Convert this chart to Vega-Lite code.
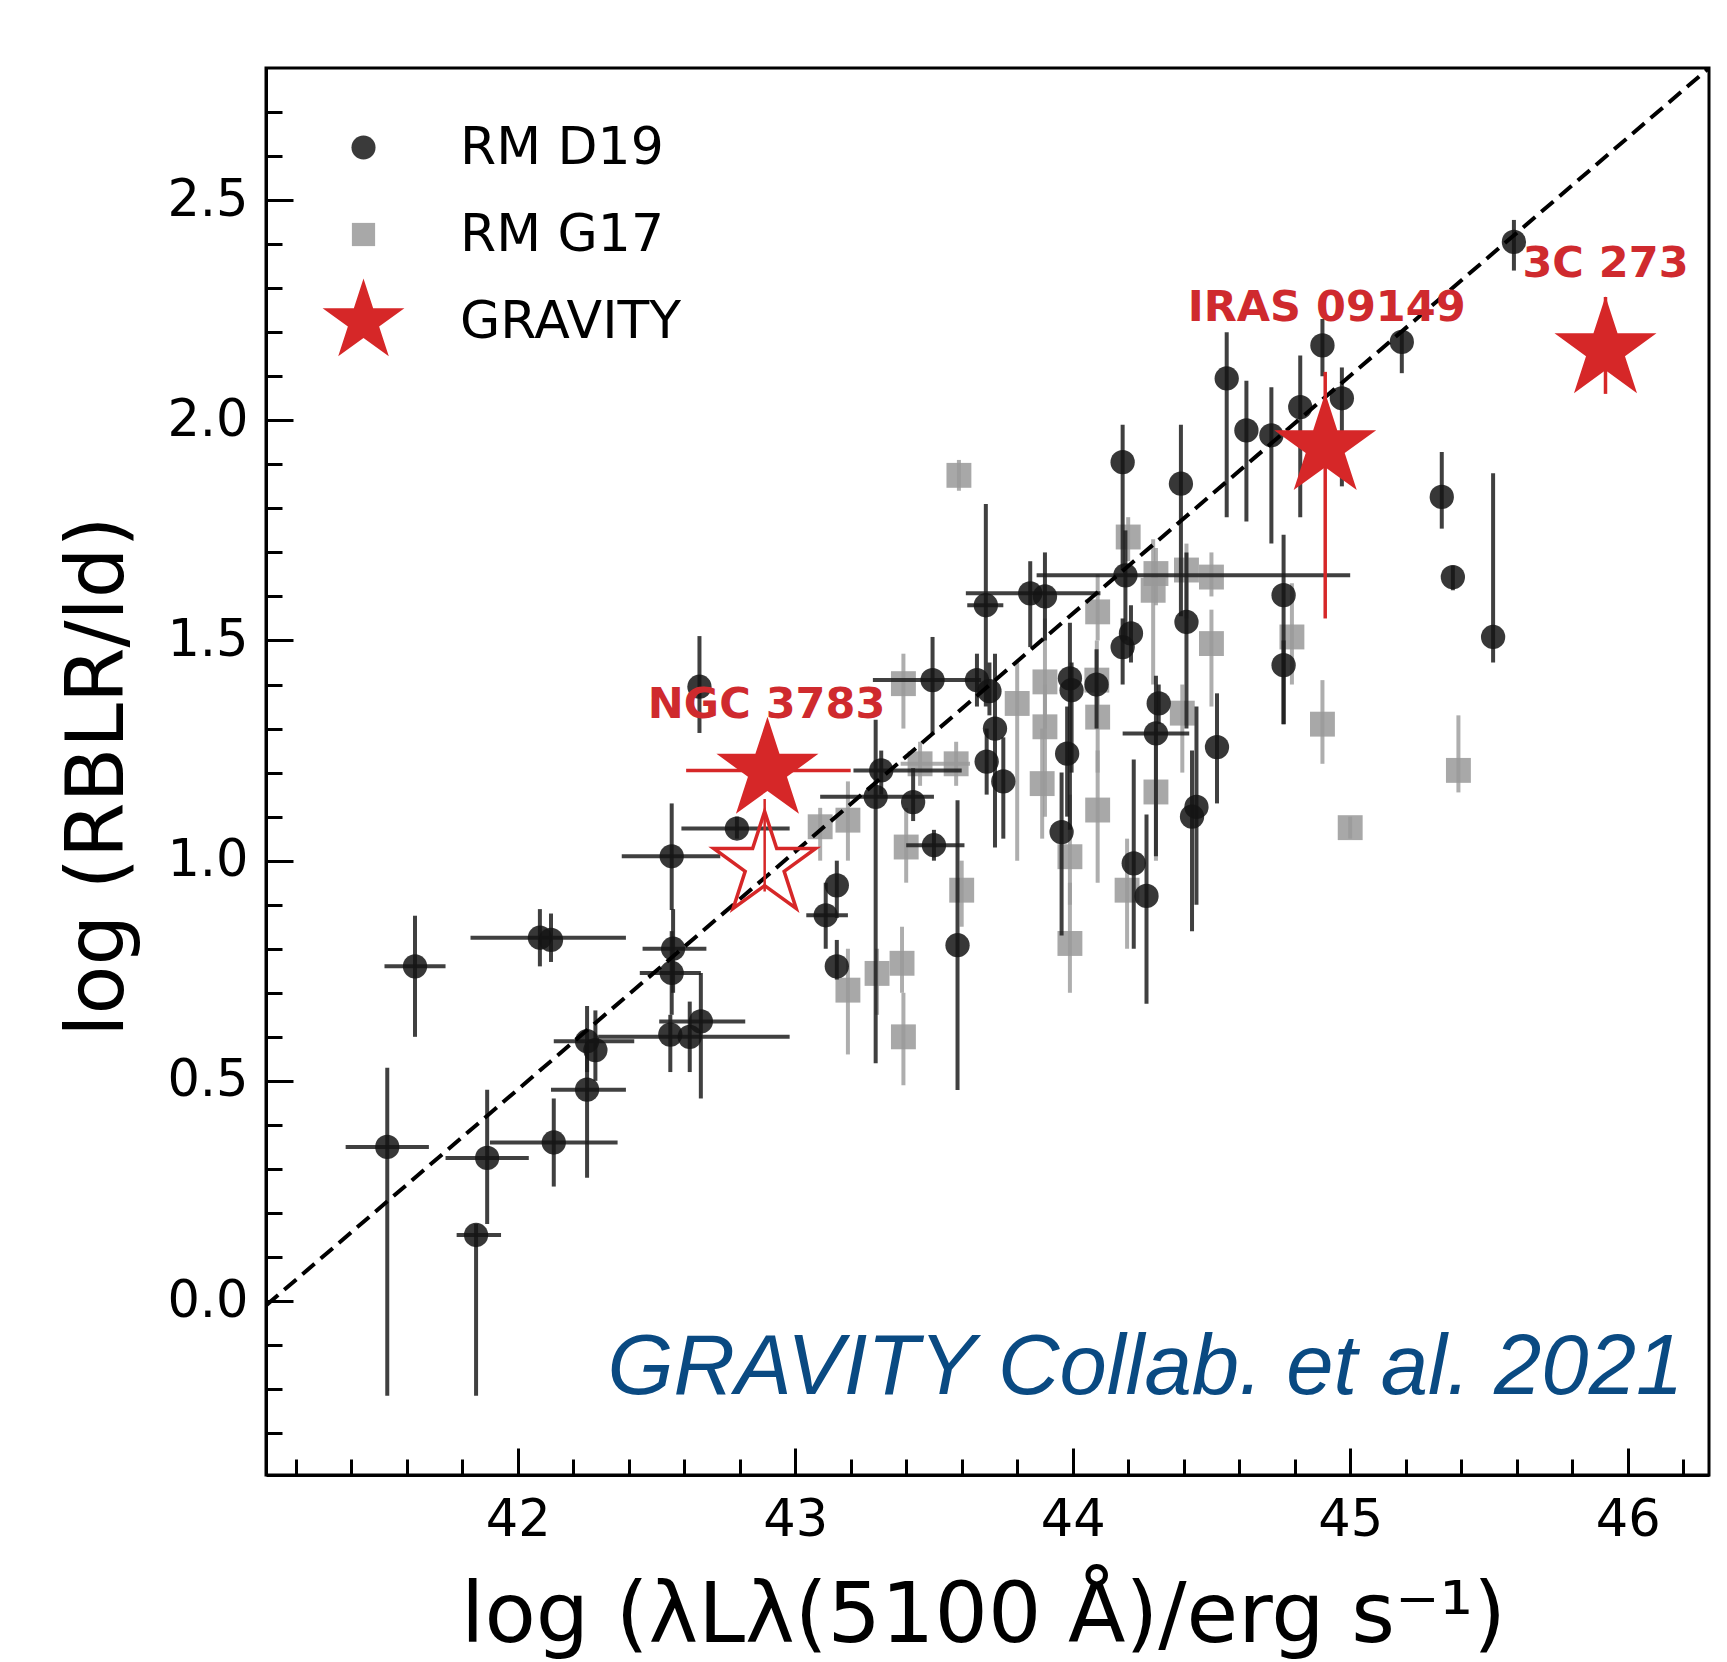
{
  "$schema": "https://vega.github.io/schema/vega-lite/v6.json",
  "width": 1443,
  "height": 1407,
  "autosize": "none",
  "padding": {"left": 266, "top": 68, "right": 18, "bottom": 187},
  "background": "white",
  "config": {
    "font": "DejaVu Sans",
    "view": {"stroke": "black", "strokeWidth": 3},
    "axis": {"grid": false}
  },
  "datasets": {
    "d19": [
      {"x":41.53,"y":0.35,"xlo":41.38,"xhi":41.68,"ylo":-0.215,"yhi":0.53},
      {"x":41.63,"y":0.76,"xlo":41.52,"xhi":41.74,"ylo":0.6,"yhi":0.875},
      {"x":41.85,"y":0.15,"xlo":41.78,"xhi":41.94,"ylo":-0.215,"yhi":0.175},
      {"x":41.89,"y":0.325,"xlo":41.74,"xhi":42.04,"ylo":0.175,"yhi":0.48},
      {"x":42.13,"y":0.36,"xlo":41.9,"xhi":42.36,"ylo":0.26,"yhi":0.46},
      {"x":42.25,"y":0.48,"xlo":42.12,"xhi":42.39,"ylo":0.28,"yhi":0.58},
      {"x":42.25,"y":0.59,"xlo":42.13,"xhi":42.42,"ylo":0.52,"yhi":0.67},
      {"x":42.28,"y":0.57,"ylo":0.5,"yhi":0.66},
      {"x":42.08,"y":0.825,"xlo":41.83,"xhi":42.39,"ylo":0.76,"yhi":0.89},
      {"x":42.12,"y":0.82,"ylo":0.77,"yhi":0.88},
      {"x":42.55,"y":0.605,"ylo":0.52,"yhi":0.65},
      {"x":42.62,"y":0.6,"xlo":42.29,"xhi":42.98,"ylo":0.52,"yhi":0.68},
      {"x":42.66,"y":0.635,"xlo":42.51,"xhi":42.82,"ylo":0.46,"yhi":0.745},
      {"x":42.555,"y":0.745,"xlo":42.44,"xhi":42.66,"ylo":0.65,"yhi":0.84},
      {"x":42.56,"y":0.8,"xlo":42.45,"xhi":42.68,"ylo":0.7,"yhi":0.89},
      {"x":42.555,"y":1.01,"xlo":42.375,"xhi":42.73,"ylo":0.888,"yhi":1.13},
      {"x":42.655,"y":1.395,"ylo":1.29,"yhi":1.51},
      {"x":42.79,"y":1.073,"xlo":42.59,"xhi":42.98,"ylo":1.05,"yhi":1.1},
      {"x":43.15,"y":0.944,"ylo":0.87,"yhi":1.0},
      {"x":43.11,"y":0.876,"xlo":43.04,"xhi":43.19,"ylo":0.8,"yhi":0.95},
      {"x":43.15,"y":0.76,"ylo":0.73,"yhi":0.82},
      {"x":43.29,"y":1.145,"xlo":43.09,"xhi":43.5,"ylo":0.54,"yhi":1.32},
      {"x":43.31,"y":1.205,"xlo":43.21,"xhi":43.6,"ylo":1.15,"yhi":1.25},
      {"x":43.425,"y":1.133,"ylo":1.09,"yhi":1.21},
      {"x":43.5,"y":1.035,"xlo":43.4,"xhi":43.61,"ylo":1.0,"yhi":1.07},
      {"x":43.585,"y":0.808,"ylo":0.479,"yhi":1.137},
      {"x":43.495,"y":1.41,"xlo":43.28,"xhi":43.67,"ylo":1.29,"yhi":1.508},
      {"x":43.655,"y":1.41,"ylo":1.35,"yhi":1.47},
      {"x":43.7,"y":1.385,"ylo":1.33,"yhi":1.45},
      {"x":43.72,"y":1.3,"ylo":1.03,"yhi":1.47},
      {"x":43.69,"y":1.225,"ylo":1.15,"yhi":1.3},
      {"x":43.75,"y":1.18,"ylo":1.05,"yhi":1.28},
      {"x":43.687,"y":1.58,"xlo":43.62,"xhi":43.75,"ylo":1.35,"yhi":1.81},
      {"x":43.847,"y":1.607,"xlo":43.615,"xhi":44.1,"ylo":1.485,"yhi":1.68},
      {"x":43.9,"y":1.6,"ylo":1.5,"yhi":1.7},
      {"x":44.18,"y":1.905,"ylo":1.66,"yhi":1.99},
      {"x":44.19,"y":1.648,"xlo":43.87,"xhi":45.0,"ylo":1.5,"yhi":1.75},
      {"x":44.18,"y":1.485,"ylo":1.4,"yhi":1.55},
      {"x":44.39,"y":1.856,"ylo":1.555,"yhi":1.99},
      {"x":44.41,"y":1.542,"ylo":1.3,"yhi":1.7},
      {"x":43.99,"y":1.414,"ylo":1.07,"yhi":1.54},
      {"x":43.996,"y":1.387,"ylo":1.2,"yhi":1.45},
      {"x":43.96,"y":1.065,"ylo":0.83,"yhi":1.2},
      {"x":44.31,"y":1.357,"ylo":1.31,"yhi":1.4},
      {"x":44.3,"y":1.289,"xlo":44.18,"xhi":44.42,"ylo":1.01,"yhi":1.42},
      {"x":44.52,"y":1.258,"ylo":1.13,"yhi":1.38},
      {"x":44.446,"y":1.122,"ylo":0.9,"yhi":1.35},
      {"x":44.43,"y":1.1,"ylo":0.84,"yhi":1.25},
      {"x":44.22,"y":0.994,"ylo":0.8,"yhi":1.23},
      {"x":44.266,"y":0.92,"ylo":0.675,"yhi":1.105},
      {"x":44.086,"y":1.4,"ylo":1.3,"yhi":1.48},
      {"x":43.98,"y":1.243,"ylo":1.1,"yhi":1.35},
      {"x":44.21,"y":1.516,"ylo":1.45,"yhi":1.58},
      {"x":44.555,"y":2.095,"ylo":1.78,"yhi":2.2},
      {"x":44.626,"y":1.977,"ylo":1.77,"yhi":2.09},
      {"x":44.716,"y":1.966,"ylo":1.72,"yhi":2.075},
      {"x":44.82,"y":2.03,"ylo":1.78,"yhi":2.147},
      {"x":44.97,"y":2.05,"ylo":1.85,"yhi":2.12},
      {"x":44.9,"y":2.17,"ylo":2.1,"yhi":2.23},
      {"x":45.186,"y":2.178,"ylo":2.107,"yhi":2.204},
      {"x":45.59,"y":2.405,"ylo":2.34,"yhi":2.455},
      {"x":45.33,"y":1.826,"ylo":1.754,"yhi":1.928},
      {"x":45.37,"y":1.644,"ylo":1.614,"yhi":1.67},
      {"x":45.515,"y":1.508,"ylo":1.45,"yhi":1.88},
      {"x":44.76,"y":1.603,"ylo":1.31,"yhi":1.74},
      {"x":44.76,"y":1.444,"ylo":1.31,"yhi":1.5}
    ],
    "g17": [
      {"x":43.59,"y":1.875,"ylo":1.84,"yhi":1.91},
      {"x":45.0,"y":1.075,"ylo":1.05,"yhi":1.1},
      {"x":45.39,"y":1.205,"ylo":1.155,"yhi":1.33},
      {"x":44.9,"y":1.31,"ylo":1.22,"yhi":1.41},
      {"x":44.79,"y":1.508,"ylo":1.4,"yhi":1.63},
      {"x":44.5,"y":1.493,"ylo":1.35,"yhi":1.57},
      {"x":44.5,"y":1.644,"ylo":1.6,"yhi":1.7},
      {"x":44.41,"y":1.66,"ylo":1.55,"yhi":1.72},
      {"x":44.3,"y":1.652,"ylo":1.58,"yhi":1.71},
      {"x":44.29,"y":1.614,"ylo":1.4,"yhi":1.73},
      {"x":44.2,"y":1.735,"ylo":1.68,"yhi":1.78},
      {"x":43.39,"y":1.402,"ylo":1.3,"yhi":1.47},
      {"x":43.9,"y":1.406,"ylo":1.3,"yhi":1.55},
      {"x":44.087,"y":1.41,"ylo":1.3,"yhi":1.5},
      {"x":43.8,"y":1.357,"ylo":1.0,"yhi":1.45},
      {"x":43.9,"y":1.304,"ylo":1.1,"yhi":1.4},
      {"x":44.09,"y":1.326,"ylo":1.2,"yhi":1.4},
      {"x":43.45,"y":1.22,"xlo":43.38,"xhi":43.63,"ylo":1.17,"yhi":1.27},
      {"x":43.58,"y":1.22,"ylo":1.17,"yhi":1.27},
      {"x":43.89,"y":1.175,"ylo":1.05,"yhi":1.3},
      {"x":44.09,"y":1.115,"ylo":0.95,"yhi":1.25},
      {"x":44.3,"y":1.156,"ylo":1.0,"yhi":1.3},
      {"x":43.4,"y":1.031,"ylo":0.95,"yhi":1.12},
      {"x":43.6,"y":0.933,"ylo":0.85,"yhi":1.0},
      {"x":43.99,"y":0.812,"ylo":0.7,"yhi":0.95},
      {"x":44.196,"y":0.933,"ylo":0.8,"yhi":1.05},
      {"x":43.385,"y":0.767,"ylo":0.7,"yhi":0.85},
      {"x":43.295,"y":0.744,"ylo":0.65,"yhi":0.8},
      {"x":43.19,"y":0.706,"ylo":0.56,"yhi":0.8},
      {"x":43.39,"y":0.6,"ylo":0.49,"yhi":0.7},
      {"x":43.19,"y":1.092,"ylo":1.0,"yhi":1.18},
      {"x":43.09,"y":1.077,"ylo":1.0,"yhi":1.12},
      {"x":43.99,"y":1.009,"ylo":0.9,"yhi":1.15},
      {"x":44.395,"y":1.335,"ylo":1.2,"yhi":1.4},
      {"x":44.09,"y":1.565,"ylo":1.5,"yhi":1.65}
    ],
    "grav": [
      {"name":"NGC 3783","x":42.9,"y":1.205,"xlo":42.607,"xhi":43.2},
      {"name":"IRAS 09149","x":44.91,"y":1.94,"ylo":1.55,"yhi":2.11},
      {"name":"3C 273","x":45.92,"y":2.16,"ylo":2.06,"yhi":2.28}
    ],
    "gravopen": [
      {"name":"NGC 3783 (alt)","x":42.89,"y":0.99,"ylo":0.93,"yhi":1.14}
    ],
    "labels": [
      {"t":"NGC 3783","x":42.897,"y":1.325},
      {"t":"IRAS 09149","x":44.915,"y":2.225},
      {"t":"3C 273","x":45.92,"y":2.325}
    ],
    "credit": [
      {"t":"GRAVITY Collab. et al. 2021","x":46.2,"y":-0.21}
    ],
    "fit": [
      {"x":41.093,"y":-0.01},
      {"x":46.293,"y":2.8}
    ],
    "legend": [
      {"src":"RM D19"},{"src":"RM G17"},{"src":"GRAVITY"}
    ]
  },
  "encoding": {
    "x": {
      "type": "quantitative",
      "scale": {"domain": [41.093, 46.293], "nice": false, "zero": false},
      "axis": {
        "title": "log (λLλ(5100 Å)/erg s⁻¹)",
        "titleFont": "DejaVu Sans",
        "titleFontSize": 84,
        "titleFontWeight": "normal",
        "titleColor": "black",
        "titleX": 717,
        "titleY": 166,
        "titleAlign": "center",
        "titleBaseline": "alphabetic",
        "values": [41.2,41.4,41.6,41.8,42,42.2,42.4,42.6,42.8,43,43.2,43.4,43.6,43.8,44,44.2,44.4,44.6,44.8,45,45.2,45.4,45.6,45.8,46,46.2],
        "labelExpr": "abs(datum.value - round(datum.value)) < 0.01 ? format(datum.value, 'd') : ''",
        "labelFont": "DejaVu Sans",
        "labelFontSize": 51,
        "labelColor": "black",
        "labelPadding": 47,
        "labelOverlap": false,
        "labelFlush": false,
        "labelBound": false,
        "tickColor": "black",
        "tickWidth": 3,
        "tickSize": {"condition": {"test": "abs(datum.value - round(datum.value)) < 0.01", "value": -27}, "value": -16},
        "domainColor": "black",
        "domainWidth": 3
      }
    },
    "y": {
      "type": "quantitative",
      "scale": {"domain": [-0.395, 2.8], "nice": false, "zero": false},
      "axis": {
        "title": "log (RBLR/ld)",
        "titleFont": "DejaVu Sans",
        "titleFontSize": 80,
        "titleFontWeight": "normal",
        "titleColor": "black",
        "titleX": -144,
        "titleY": 708,
        "titleAngle": -90,
        "titleAlign": "center",
        "titleBaseline": "alphabetic",
        "values": [-0.3,-0.2,-0.1,0,0.1,0.2,0.3,0.4,0.5,0.6,0.7,0.8,0.9,1,1.1,1.2,1.3,1.4,1.5,1.6,1.7,1.8,1.9,2,2.1,2.2,2.3,2.4,2.5,2.6,2.7],
        "labelExpr": "abs(datum.value*2 - round(datum.value*2)) < 0.01 ? format(datum.value, '.1f') : ''",
        "labelFont": "DejaVu Sans",
        "labelFontSize": 51,
        "labelColor": "black",
        "labelPadding": 45,
        "labelOverlap": false,
        "labelFlush": false,
        "labelBound": false,
        "tickColor": "black",
        "tickWidth": 3,
        "tickSize": {"condition": {"test": "abs(datum.value*2 - round(datum.value*2)) < 0.01", "value": -27}, "value": -16},
        "domainColor": "black",
        "domainWidth": 3
      }
    }
  },
  "layer": [
    {
      "data": {"name": "g17"},
      "mark": {"type": "rule", "color": "#9a9a9a", "strokeWidth": 4, "opacity": 0.8},
      "encoding": {"x": {"field": "x"}, "y": {"field": "ylo"}, "y2": {"field": "yhi"}}
    },
    {
      "data": {"name": "g17"},
      "transform": [{"filter": "datum.xlo != null"}],
      "mark": {"type": "rule", "color": "#9a9a9a", "strokeWidth": 4, "opacity": 0.8},
      "encoding": {"x": {"field": "xlo"}, "x2": {"field": "xhi"}, "y": {"field": "y"}}
    },
    {
      "data": {"name": "g17"},
      "mark": {"type": "point", "shape": "square", "filled": true, "color": "#999999", "size": 620, "opacity": 0.85},
      "encoding": {"x": {"field": "x"}, "y": {"field": "y"}}
    },
    {
      "data": {"name": "d19"},
      "mark": {"type": "rule", "color": "#1e1e1e", "strokeWidth": 4, "opacity": 0.85},
      "encoding": {"x": {"field": "x"}, "y": {"field": "ylo"}, "y2": {"field": "yhi"}}
    },
    {
      "data": {"name": "d19"},
      "transform": [{"filter": "datum.xlo != null"}],
      "mark": {"type": "rule", "color": "#1e1e1e", "strokeWidth": 4, "opacity": 0.85},
      "encoding": {"x": {"field": "xlo"}, "x2": {"field": "xhi"}, "y": {"field": "y"}}
    },
    {
      "data": {"name": "d19"},
      "mark": {"type": "point", "shape": "circle", "filled": true, "color": "#141414", "size": 590, "opacity": 0.85},
      "encoding": {"x": {"field": "x"}, "y": {"field": "y"}}
    },
    {
      "data": {"name": "fit"},
      "mark": {"type": "line", "color": "black", "strokeWidth": 4, "strokeDash": [16, 8], "clip": true},
      "encoding": {"x": {"field": "x"}, "y": {"field": "y"}}
    },
    {
      "data": {"name": "grav"},
      "transform": [{"filter": "datum.ylo != null"}],
      "mark": {"type": "rule", "color": "#d62728", "strokeWidth": 3.5},
      "encoding": {"x": {"field": "x"}, "y": {"field": "ylo"}, "y2": {"field": "yhi"}}
    },
    {
      "data": {"name": "grav"},
      "transform": [{"filter": "datum.xlo != null"}],
      "mark": {"type": "rule", "color": "#d62728", "strokeWidth": 3.5},
      "encoding": {"x": {"field": "xlo"}, "x2": {"field": "xhi"}, "y": {"field": "y"}}
    },
    {
      "data": {"name": "gravopen"},
      "mark": {"type": "rule", "color": "#d62728", "strokeWidth": 2.5},
      "encoding": {"x": {"field": "x"}, "y": {"field": "ylo"}, "y2": {"field": "yhi"}}
    },
    {
      "data": {"name": "gravopen"},
      "mark": {"type": "point", "shape": "M0,-1L0.2245,-0.309L0.9511,-0.309L0.3633,0.118L0.5878,0.809L0,0.382L-0.5878,0.809L-0.3633,0.118L-0.9511,-0.309L-0.2245,-0.309Z", "filled": false, "stroke": "#d62728", "strokeWidth": 3.5, "size": 11500, "opacity": 1},
      "encoding": {"x": {"field": "x"}, "y": {"field": "y"}}
    },
    {
      "data": {"name": "grav"},
      "mark": {"type": "point", "shape": "M0,-1L0.2245,-0.309L0.9511,-0.309L0.3633,0.118L0.5878,0.809L0,0.382L-0.5878,0.809L-0.3633,0.118L-0.9511,-0.309L-0.2245,-0.309Z", "filled": true, "color": "#d62728", "size": 11500, "opacity": 1},
      "encoding": {"x": {"field": "x"}, "y": {"field": "y"}}
    },
    {
      "data": {"name": "labels"},
      "mark": {"type": "text", "font": "DejaVu Sans", "fontWeight": "bold", "fontSize": 43, "color": "#cf2a2e", "align": "center", "baseline": "alphabetic"},
      "encoding": {"x": {"field": "x"}, "y": {"field": "y"}, "text": {"field": "t"}}
    },
    {
      "data": {"name": "credit"},
      "mark": {"type": "text", "font": "Liberation Sans", "fontStyle": "italic", "fontSize": 85, "color": "#0a4a82", "align": "right", "baseline": "alphabetic"},
      "encoding": {"x": {"field": "x"}, "y": {"field": "y"}, "text": {"field": "t"}}
    },
    {
      "data": {"name": "legend"},
      "transform": [{"filter": "false"}],
      "mark": {"type": "point", "filled": true, "opacity": 1},
      "encoding": {
        "color": {
          "field": "src", "type": "nominal",
          "scale": {"domain": ["RM D19", "RM G17", "GRAVITY"], "range": ["#3a3a3a", "#a8a8a8", "#d62728"]},
          "legend": {
            "title": null,
            "orient": "none",
            "legendX": 54,
            "legendY": 36,
            "padding": 0,
            "labelFont": "DejaVu Sans",
            "labelFontSize": 52,
            "labelColor": "black",
            "labelLimit": 0,
            "labelOffset": 53,
            "rowPadding": 17,
            "symbolSize": 7400,
            "symbolStrokeWidth": 0,
            "symbolOpacity": 1
          }
        },
        "shape": {
          "field": "src", "type": "nominal",
          "scale": {"domain": ["RM D19", "RM G17", "GRAVITY"], "range": ["M-0.28,0A0.28,0.28,0,1,0,0.28,0A0.28,0.28,0,1,0,-0.28,0Z", "M-0.27,-0.27L0.27,-0.27L0.27,0.27L-0.27,0.27Z", "M0,-1L0.2245,-0.309L0.9511,-0.309L0.3633,0.118L0.5878,0.809L0,0.382L-0.5878,0.809L-0.3633,0.118L-0.9511,-0.309L-0.2245,-0.309Z"]}
        }
      }
    }
  ]
}
